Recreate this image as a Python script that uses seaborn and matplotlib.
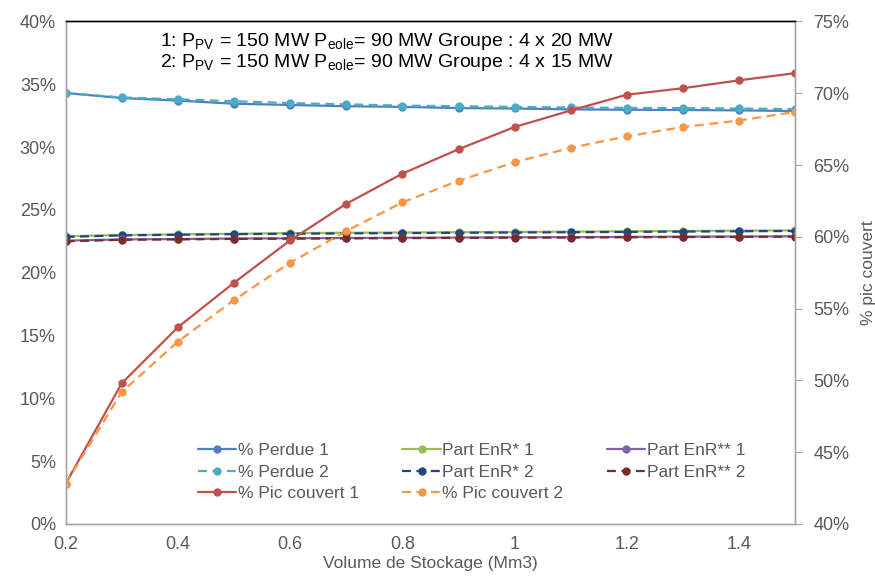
import numpy as np
import pandas as pd
import matplotlib
matplotlib.use('Agg')
import matplotlib.pyplot as plt
import seaborn as sns
from matplotlib.ticker import FuncFormatter

# Volume de stockage (Mm3)
volume = [0.2, 0.3, 0.4, 0.5, 0.6, 0.7, 0.8, 0.9, 1.0, 1.1, 1.2, 1.3, 1.4, 1.5]

# left axis series (%)
perdue_1 = [34.3, 33.9, 33.7, 33.45, 33.35, 33.25, 33.2, 33.1, 33.07, 33.0, 32.97, 32.95, 32.92, 32.87]
perdue_2 = [34.3, 33.95, 33.8, 33.65, 33.5, 33.4, 33.3, 33.25, 33.2, 33.15, 33.12, 33.1, 33.07, 33.02]
enr1_1 = [22.9, 23.0, 23.05, 23.1, 23.15, 23.18, 23.2, 23.22, 23.25, 23.27, 23.3, 23.32, 23.35, 23.37]
enr1_2 = [22.85, 22.97, 23.02, 23.07, 23.1, 23.13, 23.15, 23.18, 23.2, 23.22, 23.25, 23.27, 23.3, 23.32]
enr2_1 = [22.55, 22.65, 22.68, 22.72, 22.74, 22.76, 22.78, 22.8, 22.82, 22.83, 22.85, 22.87, 22.88, 22.9]
enr2_2 = [22.5, 22.62, 22.65, 22.69, 22.71, 22.73, 22.75, 22.77, 22.79, 22.8, 22.82, 22.84, 22.85, 22.87]

# right axis series (%)
pic_1 = [42.8, 49.8, 53.7, 56.8, 59.75, 62.3, 64.4, 66.1, 67.65, 68.8, 69.9, 70.35, 70.9, 71.4]
pic_2 = [42.8, 49.2, 52.7, 55.6, 58.2, 60.4, 62.4, 63.9, 65.2, 66.2, 67.0, 67.65, 68.1, 68.7]

sns.set_style('white')
plt.rcParams['font.family'] = ['Liberation Sans', 'DejaVu Sans']
plt.rcParams['mathtext.fontset'] = 'custom'
plt.rcParams['mathtext.rm'] = 'Liberation Sans'

txt = '#595959'
grey = '#A6A6A6'

fig = plt.figure(figsize=(8.75, 5.79), dpi=100)
ax = fig.add_axes([0.075, 0.095, 0.834, 0.868])
ax2 = ax.twinx()

dash = (4, 2.5)
left_series = [
    ('% Perdue 1', perdue_1, '#4F81BD', None),
    ('% Perdue 2', perdue_2, '#4BACC6', dash),
    ('Part EnR* 1', enr1_1, '#9BBB59', None),
    ('Part EnR* 2', enr1_2, '#1F497D', dash),
    ('Part EnR** 1', enr2_1, '#8064A2', None),
    ('Part EnR** 2', enr2_2, '#772C2A', dash),
]
right_series = [
    ('% Pic couvert 1', pic_1, '#C0504D', None),
    ('% Pic couvert 2', pic_2, '#F79646', dash),
]

handles = {}
for target, series in [(ax, left_series), (ax2, right_series)]:
    for name, vals, col, ds in series:
        df = pd.DataFrame({'x': volume, 'y': np.array(vals) / 100})
        n_before = len(target.get_lines())
        sns.lineplot(data=df, x='x', y='y', ax=target, color=col, marker='o',
                     markersize=6, markeredgewidth=0, linewidth=1.6)
        line = target.get_lines()[n_before]
        if ds is not None:
            line.set_dashes(ds)
        line.set_label(name)
        handles[name] = line

ax.set_xlim(0.2, 1.5)
ax.set_ylim(0, 0.40)
ax2.set_ylim(0.40, 0.75)
ax.set_xticks([0.2, 0.4, 0.6, 0.8, 1.0, 1.2, 1.4])
ax.xaxis.set_major_formatter(FuncFormatter(lambda v, p: f'{v:g}'))
ax.set_yticks(np.arange(0, 0.401, 0.05))
ax.yaxis.set_major_formatter(FuncFormatter(lambda v, p: f'{v * 100:.0f}%'))
ax2.set_yticks(np.arange(0.40, 0.751, 0.05))
ax2.yaxis.set_major_formatter(FuncFormatter(lambda v, p: f'{v * 100:.0f}%'))

ax.tick_params(axis='both', length=0, labelsize=13, labelcolor=txt, pad=7)
ax.tick_params(axis='x', pad=9)
ax2.tick_params(axis='y', length=5, color=grey, labelsize=13, labelcolor=txt, pad=8, direction='out')

for a in (ax, ax2):
    for s in ['left', 'right', 'bottom']:
        a.spines[s].set_color(grey)
        a.spines[s].set_linewidth(1.0)
    a.spines['top'].set_color('black')
    a.spines['top'].set_linewidth(1.0)
    a.grid(False)

ax.set_xlabel('Volume de Stockage (Mm3)', fontsize=12.5, color=txt, labelpad=2)
ax.set_ylabel('')
ax2.set_xlabel('')
ax2.set_ylabel('% pic couvert', fontsize=12.5, color=txt, labelpad=8)

ax.text(0.44, 0.96,
        r'1: P$_{\mathregular{PV}}$ = 150 MW P$_{\mathregular{eole}}$= 90 MW Groupe : 4 x 20 MW',
        transform=ax.transAxes, ha='center', va='center', fontsize=14, color='black')
ax.text(0.44, 0.918,
        r'2: P$_{\mathregular{PV}}$ = 150 MW P$_{\mathregular{eole}}$= 90 MW Groupe : 4 x 15 MW',
        transform=ax.transAxes, ha='center', va='center', fontsize=14, color='black')

order = ['% Perdue 1', '% Perdue 2', '% Pic couvert 1',
         'Part EnR* 1', 'Part EnR* 2', '% Pic couvert 2',
         'Part EnR** 1', 'Part EnR** 2']
for a in (ax, ax2):
    if a.get_legend() is not None:
        a.get_legend().remove()
leg = ax2.legend([handles[k] for k in order], order, ncol=3, frameon=False,
                 loc='lower left', bbox_to_anchor=(0.16, 0.015),
                 fontsize=12.5, handlelength=2.2, handletextpad=0.1,
                 columnspacing=2.5, labelspacing=0.35)
for t in leg.get_texts():
    t.set_color(txt)

fig.savefig('out.png', dpi=100)
